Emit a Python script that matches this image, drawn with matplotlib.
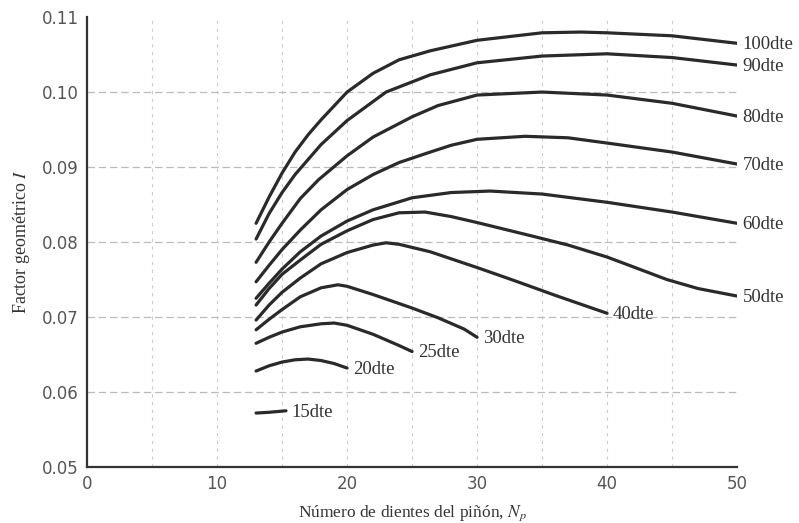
import matplotlib.pyplot as plt

plt.rcParams['mathtext.fontset'] = 'stix'

# Datos (número de dientes del piñón vs factor geométrico I)
x15 = [13, 14, 15.3]
y15 = [0.0572, 0.0573, 0.0575]

x20 = [13, 14, 15, 16, 17, 18, 19, 20]
y20 = [0.0628, 0.0635, 0.0640, 0.0643, 0.0644, 0.0642, 0.0638, 0.0632]

x25 = [13, 14, 15, 16.4, 18, 19, 20, 22, 24, 25]
y25 = [0.0665, 0.0673, 0.0680, 0.0687, 0.0691, 0.0692, 0.0689, 0.0677, 0.0662, 0.0654]

x30 = [13, 14, 15, 16.4, 18, 19.3, 20, 22, 25, 27, 29, 30]
y30 = [0.0683, 0.0697, 0.0710, 0.0727, 0.0739, 0.0743, 0.0741, 0.0730, 0.0712, 0.0699, 0.0684, 0.0673]

x40 = [13, 14, 15, 16.4, 18, 20, 22, 23, 24, 26.4, 30, 32.8, 36, 40]
y40 = [0.0696, 0.0716, 0.0733, 0.0752, 0.0771, 0.0786, 0.0796, 0.0799, 0.0797, 0.0787, 0.0766, 0.0749, 0.0729, 0.0705]

x50 = [13, 14, 15, 16.4, 18, 20, 22, 24, 26, 28, 30, 34, 37, 40, 42, 44.6, 47, 50]
y50 = [0.0716, 0.0738, 0.0757, 0.0776, 0.0797, 0.0815, 0.0830, 0.0839, 0.0840, 0.0834, 0.0826, 0.0809, 0.0796, 0.0780, 0.0767, 0.0750, 0.0738, 0.0728]

x60 = [13, 14, 15, 16.4, 18, 20, 22, 25, 28, 31, 35, 40, 45, 50]
y60 = [0.0725, 0.0745, 0.0764, 0.0787, 0.0808, 0.0828, 0.0843, 0.0859, 0.0866, 0.0868, 0.0864, 0.0853, 0.0840, 0.0825]

x70 = [13, 14, 15, 16.4, 18, 20, 22, 24, 26.4, 28, 30, 33.7, 37, 40, 45, 50]
y70 = [0.0747, 0.0769, 0.0790, 0.0816, 0.0843, 0.0870, 0.0890, 0.0906, 0.0920, 0.0929, 0.0937, 0.0941, 0.0939, 0.0932, 0.0920, 0.0904]

x80 = [13, 14, 15, 16.4, 17.8, 20, 22, 25, 27, 30, 35, 40, 45, 50]
y80 = [0.0773, 0.0800, 0.0825, 0.0858, 0.0883, 0.0915, 0.0940, 0.0967, 0.0982, 0.0996, 0.1000, 0.0996, 0.0985, 0.0968]

x90 = [13, 14, 15, 16, 18, 20, 23, 26.4, 30, 35, 40, 45, 50]
y90 = [0.0804, 0.0838, 0.0866, 0.0890, 0.0930, 0.0962, 0.1000, 0.1023, 0.1039, 0.1048, 0.1051, 0.1046, 0.1036]

x100 = [13, 14, 15, 16, 17, 18, 20, 22, 24, 26.4, 30, 35, 38, 40, 45, 50]
y100 = [0.0825, 0.0860, 0.0892, 0.0920, 0.0943, 0.0963, 0.1000, 0.1025, 0.1043, 0.1055, 0.1069, 0.1079, 0.1080, 0.1079, 0.1075, 0.1065]

curvas = [
    (x15, y15, '15dte'), (x20, y20, '20dte'), (x25, y25, '25dte'),
    (x30, y30, '30dte'), (x40, y40, '40dte'), (x50, y50, '50dte'),
    (x60, y60, '60dte'), (x70, y70, '70dte'), (x80, y80, '80dte'),
    (x90, y90, '90dte'), (x100, y100, '100dte'),
]

serif = ['Liberation Serif', 'DejaVu Serif']

fig = plt.figure(figsize=(7.99, 5.23), dpi=100)
ax = fig.add_axes([0.109, 0.107, 0.8135, 0.8604])

# rejilla tenue punteada
for gx in range(5, 50, 5):
    ax.axvline(gx, color='#cccccc', lw=0.8, ls=(0, (3, 4)), zorder=0)
for gy in [0.06, 0.07, 0.08, 0.09, 0.10]:
    ax.axhline(gy, color='#bbbbbb', lw=0.9, ls=(0, (6, 3)), zorder=0)

for xs, ys, nombre in curvas:
    ax.plot(xs, ys, color='#2a2a2a', lw=2.3, solid_capstyle='round', solid_joinstyle='round')
    ax.annotate(nombre, xy=(xs[-1], ys[-1]), xytext=(4, -1), textcoords='offset points',
                ha='left', va='center', fontsize=13.5, family=serif, color='#333333',
                annotation_clip=False)

ax.set_xlim(0, 50)
ax.set_ylim(0.05, 0.11)
ax.set_xticks([0, 10, 20, 30, 40, 50])
ax.set_yticks([0.05, 0.06, 0.07, 0.08, 0.09, 0.10, 0.11])
ax.set_yticklabels(['0.05', '0.06', '0.07', '0.08', '0.09', '0.10', '0.11'])
ax.tick_params(length=0, labelsize=12, labelcolor='#555555', pad=6)

for s in ['top', 'right']:
    ax.spines[s].set_visible(False)
for s in ['left', 'bottom']:
    ax.spines[s].set_linewidth(1.6)
    ax.spines[s].set_color('#333333')

ax.set_xlabel(r'Número de dientes del piñón, $N_p$', fontsize=12.5, family=serif,
              color='#333333', labelpad=7)
ax.set_ylabel(r'Factor geométrico $I$', fontsize=13, family=serif, color='#333333',
              labelpad=7)

fig.savefig('out.png', dpi=100)
